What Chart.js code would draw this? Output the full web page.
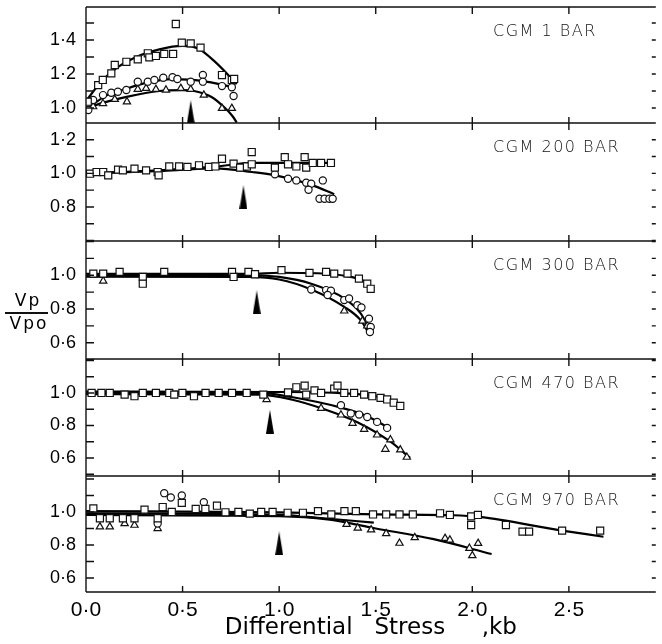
<!DOCTYPE html>
<html>
<head>
<meta charset="utf-8">
<script src="https://cdn.jsdelivr.net/npm/chart.js@4.4.1/dist/chart.umd.min.js"></script>
<style>
  html, body { margin: 0; padding: 0; background: #fff; }
  #wrap { width: 662px; height: 644px; }
</style>
</head>
<body>
<div id="wrap"><canvas id="c" width="662" height="644"></canvas></div>
<script>
// panels (top to bottom)
const panelNames = ["CGM 1 BAR", "CGM 200 BAR", "CGM 300 BAR", "CGM 470 BAR", "CGM 970 BAR"];
const panelMin = [0.912, 0.597, 0.504, 0.489, 0.515];
const panelMax = [1.594, 1.30, 1.203, 1.209, 1.218];
const panelTicks = [[1.0, 1.2, 1.4], [0.8, 1.0, 1.2], [0.6, 0.8, 1.0], [0.6, 0.8, 1.0], [0.6, 0.8, 1.0]];
const xTicks = [0, 0.5, 1.0, 1.5, 2.0, 2.5];
const arrowX = [0.542, 0.815, 0.884, 0.952, 1.0];
const arrowY = [0.976, 0.858, 0.84, 0.823, 0.81];

// CGM 1 bar
const p1Squares = [[0.009,1.037],[0.063,1.135],[0.087,1.165],[0.131,1.204],[0.149,1.253],[0.209,1.272],[0.268,1.286],[0.320,1.322],[0.328,1.298],[0.362,1.306],[0.405,1.318],[0.451,1.318],[0.465,1.494],[0.496,1.384],[0.542,1.380],[0.593,1.355],[0.704,1.194],[0.755,1.165],[0.767,1.171]];
const p1Circles = [[0.012,0.988],[0.037,1.047],[0.088,1.076],[0.131,1.090],[0.165,1.096],[0.209,1.106],[0.268,1.155],[0.320,1.155],[0.354,1.165],[0.400,1.178],[0.448,1.181],[0.473,1.171],[0.542,1.155],[0.605,1.194],[0.605,1.155],[0.704,1.129],[0.755,1.122],[0.764,1.071]];
const p1Triangles = [[0.037,1.008],[0.088,1.027],[0.149,1.051],[0.212,1.037],[0.268,1.110],[0.311,1.116],[0.362,1.110],[0.414,1.106],[0.491,1.116],[0.542,1.110],[0.610,1.076],[0.704,0.998],[0.755,0.998]];
const p1SquareFit = [[0,1.04],[0.06,1.13],[0.14,1.22],[0.26,1.30],[0.38,1.345],[0.5,1.365],[0.58,1.35],[0.67,1.27],[0.74,1.19],[0.78,1.14]];
const p1CircleFit = [[0,0.99],[0.1,1.07],[0.2,1.11],[0.3,1.145],[0.45,1.17],[0.6,1.16],[0.77,1.12]];
const p1TriangleFit = [[0,1.0],[0.1,1.035],[0.21,1.066],[0.38,1.10],[0.5,1.105],[0.56,1.10],[0.65,1.065],[0.72,1.0],[0.76,0.95],[0.78,0.915]];

// CGM 200 bar
const p2Squares = [[0.021,0.998],[0.055,1.008],[0.089,1.008],[0.115,0.988],[0.166,1.022],[0.191,1.018],[0.251,1.028],[0.311,1.018],[0.371,1.008],[0.376,0.988],[0.431,1.041],[0.482,1.041],[0.525,1.038],[0.585,1.048],[0.636,1.038],[0.670,1.041],[0.704,1.087],[0.764,1.058],[0.798,1.034],[0.833,1.041],[0.858,1.127],[0.858,1.054],[0.978,1.034],[1.029,1.097],[1.046,1.054],[1.089,1.041],[1.132,1.097],[1.140,1.034],[1.174,1.062],[1.217,1.062],[1.268,1.062]];
const p2Circles = [[0.978,0.994],[1.046,0.968],[1.089,0.958],[1.140,0.944],[1.166,0.938],[1.152,0.902],[1.226,0.958],[1.209,0.849],[1.235,0.849],[1.260,0.849],[1.277,0.849]];
const p2UpperFit = [[0,1.0],[0.4,1.02],[0.67,1.04],[0.86,1.062],[1.27,1.062]];
const p2LowerFit = [[0,1.0],[0.4,1.015],[0.67,1.03],[0.86,1.008],[0.98,0.988],[1.17,0.93],[1.285,0.876]];

// CGM 300 bar
const p3Squares = [[0.038,1.010],[0.089,1.010],[0.174,1.020],[0.294,0.990],[0.294,0.950],[0.405,1.020],[0.756,1.020],[0.764,0.990],[0.841,1.020],[0.875,1.006],[1.012,1.030],[1.157,1.014],[1.243,1.020],[1.285,1.010],[1.354,1.010],[1.413,0.980],[1.456,0.950],[1.474,0.920]];
const p3Circles = [[1.166,0.916],[1.243,0.912],[1.268,0.908],[1.251,0.883],[1.337,0.853],[1.362,0.863],[1.405,0.823],[1.426,0.809],[1.465,0.743],[1.474,0.694],[1.470,0.664]];
const p3Triangles = [[0.089,0.966],[1.337,0.789],[1.431,0.729],[1.456,0.700]];
const p3UpperFit = [[0,1.008],[0.85,1.008],[1.0,1.015],[1.2,1.012],[1.35,0.995],[1.43,0.97],[1.475,0.93]];
const p3MiddleFit = [[0,1.0],[0.85,1.0],[1.0,0.99],[1.166,0.95],[1.337,0.863],[1.422,0.774],[1.474,0.664]];
const p3LowerFit = [[0,0.992],[0.85,0.99],[1.0,0.975],[1.166,0.916],[1.337,0.813],[1.422,0.734],[1.465,0.654]];

// CGM 470 bar
const p4Squares = [[0.029,1.0],[0.080,1.0],[0.123,1.0],[0.2,0.99],[0.251,0.98],[0.294,1.0],[0.362,1.0],[0.431,1.0],[0.457,0.99],[0.499,1.0],[0.559,0.98],[0.619,1.0],[0.687,1.0],[0.756,1.0],[0.832,1.0],[0.918,0.99],[1.046,1.004],[1.089,1.035],[1.132,1.045],[1.140,0.99],[1.183,1.016],[1.217,1.0],[1.285,1.027],[1.302,1.045],[1.337,1.0],[1.388,1.0],[1.44,0.99],[1.482,0.98],[1.525,0.97],[1.559,0.96],[1.593,0.94],[1.627,0.92]];
const p4Circles = [[1.32,0.924],[1.371,0.873],[1.414,0.867],[1.456,0.852],[1.507,0.822],[1.559,0.785]];
const p4Triangles = [[0.935,0.96],[1.217,0.906],[1.32,0.865],[1.38,0.814],[1.44,0.777],[1.507,0.742],[1.55,0.654],[1.576,0.712],[1.627,0.65],[1.661,0.605]];
const p4UpperFit = [[0,1.008],[1.0,1.006],[1.3,1.0],[1.5,0.98],[1.63,0.93]];
const p4MiddleFit = [[0,1.0],[0.9,1.0],[1.063,0.975],[1.32,0.91],[1.45,0.86],[1.576,0.78]];
const p4LowerFit = [[0,0.992],[0.9,0.99],[1.063,0.96],[1.234,0.9],[1.405,0.82],[1.576,0.70],[1.678,0.6]];

// CGM 970 bar
const p5Squares = [[0.038,1.022],[0.072,0.962],[0.123,0.962],[0.191,0.962],[0.251,0.962],[0.303,1.014],[0.371,0.962],[0.397,1.03],[0.444,1.0],[0.496,1.055],[0.568,1.018],[0.618,1.018],[0.678,1.038],[0.722,0.998],[0.789,1.0],[0.848,0.99],[0.907,1.0],[0.966,1.0],[1.044,0.995],[1.123,0.995],[1.201,1.005],[1.27,0.985],[1.338,1.005],[1.397,1.005],[1.486,0.985],[1.554,0.985],[1.623,0.985],[1.692,0.985],[1.833,0.992],[1.884,0.982],[1.994,0.973],[2.029,0.982],[1.994,0.921],[2.174,0.921],[2.26,0.881],[2.294,0.881],[2.465,0.887],[2.662,0.887]];
const p5Circles = [[0.371,0.93],[0.405,1.114],[0.439,1.088],[0.496,1.10],[0.610,1.059]];
const p5Triangles = [[0.072,0.91],[0.123,0.91],[0.2,0.93],[0.251,0.92],[0.371,0.90],[1.349,0.925],[1.407,0.903],[1.476,0.892],[1.554,0.869],[1.623,0.811],[1.702,0.845],[1.859,0.84],[1.884,0.83],[1.985,0.78],[2.0,0.736],[2.03,0.81]];
const p5SquareFit = [[0,1.005],[1.0,0.998],[1.5,0.985],[1.9,0.98],[2.037,0.97],[2.465,0.887],[2.679,0.85]];
const p5MiddleFit = [[0,0.992],[1.0,0.982],[1.2,0.965],[1.49,0.935]];
const p5TriangleFit = [[0,0.982],[1.0,0.975],[1.25,0.955],[1.5,0.9],[1.8,0.835],[2.1,0.745]];

const panelHeights = [116, 118, 118, 117, 116];
const fmt = v => v.toFixed(1).replace('.', '\u00B7');

function xy(arr) { return arr.map(p => ({ x: p[0], y: p[1] })); }

function marks(arr, style, axis) {
  return {
    data: xy(arr), yAxisID: axis, showLine: false, order: 0,
    pointStyle: style,
    pointRadius: style === 'rect' ? 5 : (style === 'triangle' ? 4.2 : 3.6),
    pointBorderColor: '#111', pointBackgroundColor: '#fff', pointBorderWidth: 1.2
  };
}

function fit(arr, axis) {
  return {
    data: xy(arr), yAxisID: axis, showLine: true, order: 1,
    borderColor: '#000', borderWidth: 2.2, pointRadius: 0,
    cubicInterpolationMode: 'monotone'
  };
}

// black pointer drawn as point image
const arrowImg = document.createElement('canvas');
arrowImg.width = 8; arrowImg.height = 24;
(function () {
  const g = arrowImg.getContext('2d');
  g.fillStyle = '#000';
  g.beginPath(); g.moveTo(4, 0); g.lineTo(8, 24); g.lineTo(0, 24); g.closePath(); g.fill();
})();

const datasets = [
  fit(p1SquareFit, 'p1'), fit(p1CircleFit, 'p1'), fit(p1TriangleFit, 'p1'),
  marks(p1Squares, 'rect', 'p1'), marks(p1Circles, 'circle', 'p1'), marks(p1Triangles, 'triangle', 'p1'),
  fit(p2UpperFit, 'p2'), fit(p2LowerFit, 'p2'),
  marks(p2Squares, 'rect', 'p2'), marks(p2Circles, 'circle', 'p2'),
  fit(p3UpperFit, 'p3'), fit(p3MiddleFit, 'p3'), fit(p3LowerFit, 'p3'),
  marks(p3Squares, 'rect', 'p3'), marks(p3Circles, 'circle', 'p3'), marks(p3Triangles, 'triangle', 'p3'),
  fit(p4UpperFit, 'p4'), fit(p4MiddleFit, 'p4'), fit(p4LowerFit, 'p4'),
  marks(p4Squares, 'rect', 'p4'), marks(p4Circles, 'circle', 'p4'), marks(p4Triangles, 'triangle', 'p4'),
  fit(p5SquareFit, 'p5'), fit(p5MiddleFit, 'p5'), fit(p5TriangleFit, 'p5'),
  marks(p5Squares, 'rect', 'p5'), marks(p5Circles, 'circle', 'p5'), marks(p5Triangles, 'triangle', 'p5')
];
arrowX.forEach((x, i) => {
  datasets.push({
    data: [{ x: x, y: arrowY[i] }], yAxisID: 'p' + (i + 1), showLine: false, order: 0,
    pointStyle: arrowImg, pointRadius: 4
  });
});

const scales = {
  x: {
    type: 'linear', position: 'bottom', min: 0, max: 2.95,
    ticks: {
      stepSize: 0.5, includeBounds: false, autoSkip: false, maxRotation: 0, padding: -2,
      color: '#000', font: { family: 'Liberation Sans', size: 21 },
      callback: v => xTicks.some(t => Math.abs(t - v) < 1e-6) ? fmt(v) : ''
    },
    grid: { display: false }, border: { display: false },
    title: {
      display: true, text: 'Differential   Stress     ,kb', color: '#000',
      font: { family: 'DejaVu Sans', size: 23 }, padding: { top: 0, bottom: 2 }
    },
    afterFit: s => { s.height = 52; s.paddingLeft = 0; s.paddingRight = 0; }
  }
};
panelNames.forEach((n, i) => {
  scales['p' + (i + 1)] = {
    type: 'linear', position: 'left', stack: 'panels', stackWeight: panelHeights[i], weight: 5 - i,
    min: panelMin[i], max: panelMax[i],
    ticks: {
      stepSize: 0.1, includeBounds: false, autoSkip: false, padding: 2,
      color: '#000', font: { family: 'Liberation Sans', size: 18 },
      callback: v => panelTicks[i].some(t => Math.abs(t - v) < 1e-6) ? fmt(v) : ''
    },
    grid: { display: false }, border: { display: false },
    afterFit: s => { s.width = 86; s.paddingTop = 0; s.paddingBottom = 0; }
  };
});

// frame, inward ticks, panel titles and y label
const framePlugin = {
  id: 'frame',
  afterDraw(chart) {
    const ctx = chart.ctx, a = chart.chartArea, xs = chart.scales.x;
    ctx.save();
    ctx.strokeStyle = '#111';
    ctx.fillStyle = '#111';
    ctx.lineWidth = 1.4;
    ctx.beginPath();
    ctx.moveTo(a.left, a.top); ctx.lineTo(a.left, a.bottom);
    ctx.moveTo(a.left, a.bottom); ctx.lineTo(a.right, a.bottom);
    for (let i = 0; i < 5; i++) {
      const s = chart.scales['p' + (i + 1)];
      ctx.moveTo(a.left, s.top); ctx.lineTo(a.right, s.top);
      xTicks.forEach(t => {
        if (t === 0) return;
        const px = xs.getPixelForValue(t);
        ctx.moveTo(px, s.top); ctx.lineTo(px, s.top + 7);
        ctx.moveTo(px, s.bottom); ctx.lineTo(px, s.bottom - 6);
      });
      s.ticks.forEach(t => {
        if (t.value < s.min || t.value > s.max) return;
        const py = s.getPixelForValue(t.value);
        ctx.moveTo(a.left, py); ctx.lineTo(a.left + 8, py);
        ctx.moveTo(a.right, py); ctx.lineTo(a.right - 4, py);
      });
    }
    ctx.stroke();

    ctx.fillStyle = '#111';
    ctx.font = '200 16px "DejaVu Sans"';
    ctx.letterSpacing = '1.5px';
    ctx.textAlign = 'left';
    ctx.textBaseline = 'middle';
    for (let i = 0; i < 5; i++) {
      const s = chart.scales['p' + (i + 1)];
      ctx.fillText(panelNames[i], 493, s.top + 25);
    }

    ctx.fillStyle = '#000';
    ctx.font = '17px "DejaVu Sans"';
    ctx.letterSpacing = '2px';
    ctx.textAlign = 'center';
    ctx.textBaseline = 'alphabetic';
    ctx.fillText('Vp', 28, 306);
    ctx.fillText('Vpo', 29, 329);
    ctx.lineWidth = 2;
    ctx.beginPath(); ctx.moveTo(5, 313); ctx.lineTo(48, 313); ctx.stroke();
    ctx.restore();
  }
};

new Chart(document.getElementById('c'), {
  type: 'scatter',
  data: { datasets: datasets },
  options: {
    responsive: false,
    animation: false,
    devicePixelRatio: 1,
    layout: { padding: { left: 0, right: 1, top: 7, bottom: 0 } },
    plugins: { legend: { display: false }, tooltip: { enabled: false } },
    scales: scales
  },
  plugins: [framePlugin]
});
</script>
</body>
</html>
